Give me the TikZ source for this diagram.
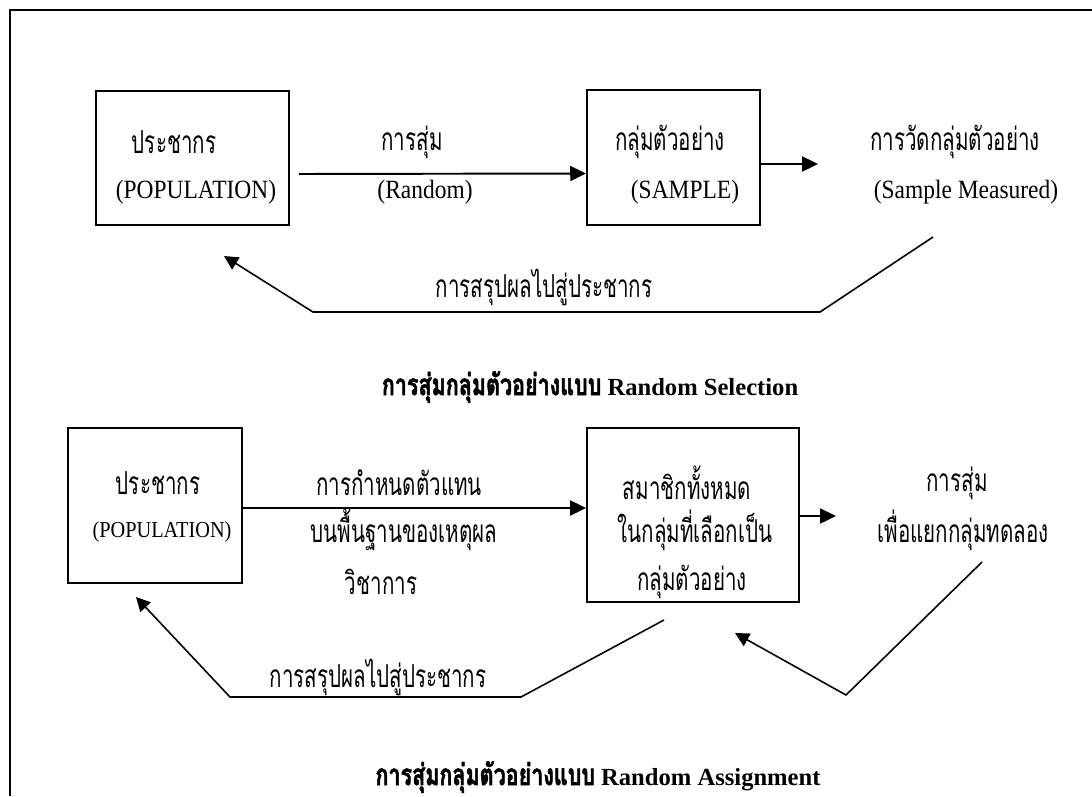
\documentclass[tikz,border=0pt]{standalone}
\usepackage{fontspec}
\setmainfont{Liberation Serif}
\newfontfamily\thaifont[Script=Thai,FakeStretch=0.65]{Loma}
\newfontfamily\thaititle[Script=Thai,FakeStretch=0.72,FakeBold=1.6]{Loma}
\newfontfamily\latinfont[FakeStretch=0.89]{Liberation Serif}
\usetikzlibrary{arrows.meta}

\begin{document}
\begin{tikzpicture}[
    x=0.02cm, y=-0.02cm,
    box/.style={rectangle, draw, line width=1.1pt, inner sep=0pt},
    thtext/.style={font=\thaifont\fontsize{18}{22}\selectfont, inner sep=0pt},
    entext/.style={font=\latinfont\fontsize{15}{18}\selectfont, inner sep=0pt},
    ensmall/.style={font=\latinfont\fontsize{13}{16}\selectfont, inner sep=0pt},
    caption/.style={font=\bfseries\fontsize{14}{17}\selectfont, inner sep=0pt},
    arrow/.style={-{Triangle[length=9pt, width=8.5pt]}, line width=1.1pt},
    back/.style={-{Triangle[length=8pt, width=8pt]}, line width=0.9pt}
]
    \useasboundingbox (0,0) rectangle (1092,796);

    % frame
    \coordinate (fr) at (10,796);
    \coordinate (fc) at (10,10);
    \coordinate (fe) at (1092,10);
    \draw[line width=1.2pt] (fr) -- (fc) -- (fe);

    % ---- Random Selection ----
    \node[box, minimum width=3.86cm, minimum height=2.68cm] (pop1) at (192.5,158) {};
    \node[box, minimum width=3.46cm, minimum height=2.70cm] (samp1) at (673.5,157.5) {};

    \node[thtext] (pop1th) at (174,142) {ประชากร};
    \node[entext] (pop1en) at (196,192) {(POPULATION)};
    \node[thtext] (rand1th) at (412,142) {การสุ่ม};
    \node[entext] (rand1en) at (425,192) {(Random)};
    \node[thtext] (samp1th) at (670,142) {กลุ่มตัวอย่าง};
    \node[entext] (samp1en) at (685,192) {(SAMPLE)};
    \node[thtext] (meas1th) at (955,142) {การวัดกลุ่มตัวอย่าง};
    \node[entext] (meas1en) at (966,192) {(Sample Measured)};
    \node[thtext] (infer1) at (544,287) {การสรุปผลไปสู่ประชากร};

    \draw[arrow, shorten <=0.18cm] ([yshift=-0.32cm]pop1.east) -- ([yshift=-0.32cm]samp1.west);
    \coordinate (meas1tip) at (818,164);
    \draw[arrow] (samp1.east |- meas1tip) -- (meas1tip);

    % ย้อนกลับไปสู่ประชากร
    \coordinate (b1a) at (933,237);
    \coordinate (b1b) at (820,312);
    \coordinate (b1c) at (313,312);
    \coordinate (b1tip) at (224,256);
    \draw[back] (b1a) -- (b1b) -- (b1c) -- (b1tip);

    \node[caption] (cap1) at (590,387) {{\thaititle\fontsize{17}{20}\selectfont การสุ่มกลุ่มตัวอย่างแบบ} Random Selection};

    % ---- Random Assignment ----
    \node[box, minimum width=3.48cm, minimum height=3.10cm] (pop2) at (155,505.5) {};
    \node[box, minimum width=4.24cm, minimum height=3.48cm] (all2) at (693,515) {};

    \node[thtext] (pop2th) at (158,483) {ประชากร};
    \node[ensmall] (pop2en) at (162,532) {(POPULATION)};
    \node[thtext] (rep2a) at (399,483) {การกำหนดตัวแทน};
    \node[thtext] (rep2b) at (404,530) {บนพื้นฐานของเหตุผล};
    \node[thtext] (rep2c) at (381,582) {วิชาการ};
    \node[thtext] (all2a) at (687,483) {สมาชิกทั้งหมด};
    \node[thtext] (all2b) at (695,530) {ในกลุ่มที่เลือกเป็น};
    \node[thtext] (all2c) at (692,582) {กลุ่มตัวอย่าง};
    \node[thtext] (rand2a) at (957,483) {การสุ่ม};
    \node[thtext] (rand2b) at (963,530) {เพื่อแยกกลุ่มทดลอง};
    \node[thtext] (infer2) at (378,677) {การสรุปผลไปสู่ประชากร};

    \coordinate (row2) at (0,508);
    \draw[arrow] (pop2.east |- row2) -- (all2.west |- row2);
    \coordinate (rand2tip) at (836,516);
    \draw[arrow] (all2.east |- rand2tip) -- (rand2tip);

    \coordinate (b2a) at (664,620);
    \coordinate (b2b) at (521,697);
    \coordinate (b2c) at (230,697);
    \coordinate (b2tip) at (136,597);
    \draw[back] (b2a) -- (b2b) -- (b2c) -- (b2tip);

    \coordinate (b3a) at (982,562);
    \coordinate (b3b) at (846,695);
    \coordinate (b3tip) at (735,633);
    \draw[back] (b3a) -- (b3b) -- (b3tip);

    \node[caption] (cap2) at (598,777) {{\thaititle\fontsize{17}{20}\selectfont การสุ่มกลุ่มตัวอย่างแบบ} Random Assignment};

\end{tikzpicture}
\end{document}
